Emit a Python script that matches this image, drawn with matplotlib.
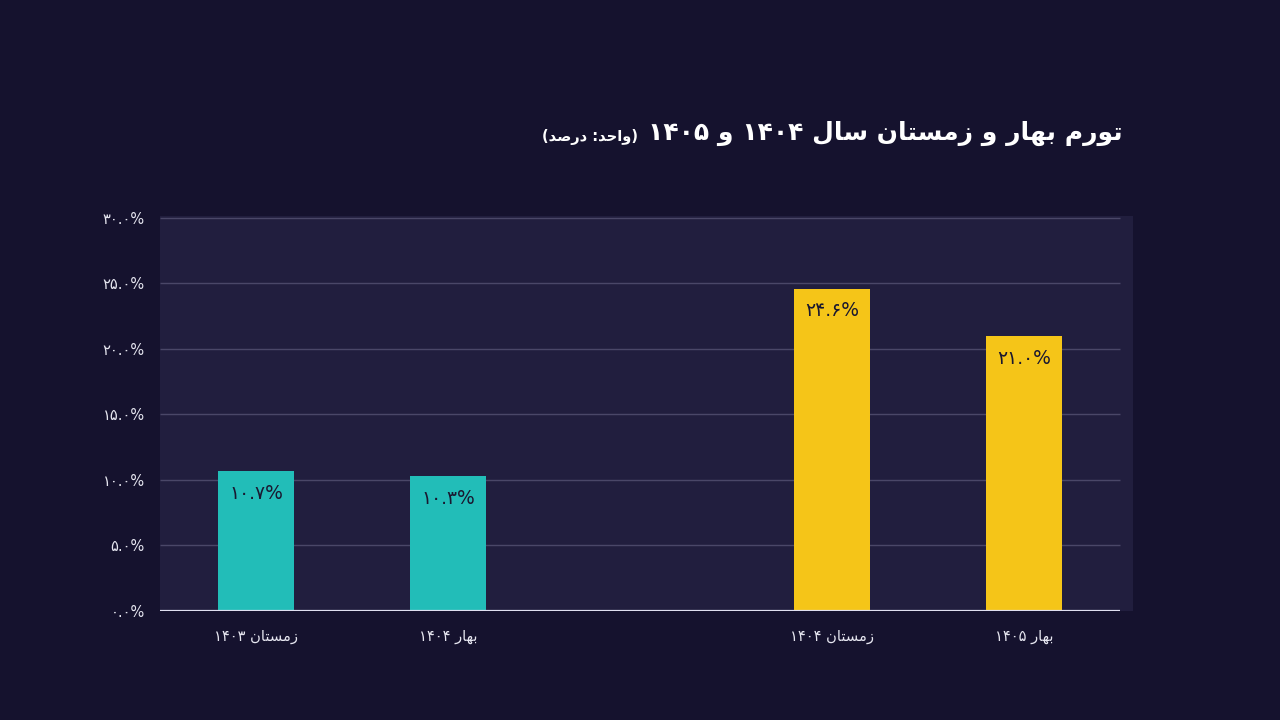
import re
import matplotlib
matplotlib.use("Agg")
import matplotlib.pyplot as plt

# ---------------- data ----------------
categories = ["زمستان ۱۴۰۳", "بهار ۱۴۰۴", "زمستان ۱۴۰۴", "بهار ۱۴۰۵"]
values = [10.7, 10.3, 24.6, 21.0]
value_labels = ["۱۰.۷%", "۱۰.۳%", "۲۴.۶%", "۲۱.۰%"]
slots = [0, 1, 3, 4]
yticks = [0, 5, 10, 15, 20, 25, 30]
ytick_labels = ["۰.۰%", "۵.۰%", "۱۰.۰%", "۱۵.۰%", "۲۰.۰%", "۲۵.۰%", "۳۰.۰%"]
title = "تورم بهار و زمستان سال ۱۴۰۴ و ۱۴۰۵"
subtitle = "(واحد: درصد)"
bar_colors = ["#22BDB8", "#22BDB8", "#F5C518", "#F5C518"]

# ---------------- minimal Persian shaping ----------------
FORMS = {
    "ا": ("\uFE8D", "\uFE8E", None, None),
    "ب": ("\uFE8F", "\uFE90", "\uFE91", "\uFE92"),
    "ت": ("\uFE95", "\uFE96", "\uFE97", "\uFE98"),
    "ح": ("\uFEA1", "\uFEA2", "\uFEA3", "\uFEA4"),
    "د": ("\uFEA9", "\uFEAA", None, None),
    "ر": ("\uFEAD", "\uFEAE", None, None),
    "ز": ("\uFEAF", "\uFEB0", None, None),
    "س": ("\uFEB1", "\uFEB2", "\uFEB3", "\uFEB4"),
    "ص": ("\uFEB9", "\uFEBA", "\uFEBB", "\uFEBC"),
    "ل": ("\uFEDD", "\uFEDE", "\uFEDF", "\uFEE0"),
    "م": ("\uFEE1", "\uFEE2", "\uFEE3", "\uFEE4"),
    "ن": ("\uFEE5", "\uFEE6", "\uFEE7", "\uFEE8"),
    "ه": ("\uFEE9", "\uFEEA", "\uFEEB", "\uFEEC"),
    "و": ("\uFEED", "\uFEEE", None, None),
}


def shape(s):
    out = []
    for i, c in enumerate(s):
        if c not in FORMS:
            out.append(c)
            continue
        prev = s[i - 1] if i > 0 else None
        nxt = s[i + 1] if i + 1 < len(s) else None
        jp = prev in FORMS and FORMS[prev][2] is not None
        jn = FORMS[c][2] is not None and nxt in FORMS
        iso, fin, ini, med = FORMS[c]
        if jp and jn:
            out.append(med)
        elif jp:
            out.append(fin)
        elif jn:
            out.append(ini)
        else:
            out.append(iso)
    return "".join(out)


def rtl(s):
    v = shape(s)[::-1]
    v = v.translate(str.maketrans("()", ")("))
    v = re.sub(r"[۰-۹0-9.%]+", lambda m: m.group(0)[::-1], v)
    return v


FONT = "DejaVu Sans"
plt.rcParams["font.family"] = [FONT]

BG = "#15122E"
PANEL = "#211E3E"
GRID = "#4A4768"
TXT = "#E6E6F0"

fig = plt.figure(figsize=(12.8, 7.2), dpi=100, facecolor=BG)
ax = fig.add_axes([160 / 1280, 1 - 611 / 720, 973 / 1280, 395 / 720])
ax.set_facecolor(PANEL)
for sp in ax.spines.values():
    sp.set_visible(False)

ax.set_xlim(-0.5, 4.5 + 13 / 192)
ax.set_ylim(0, 30.15)

ax.hlines(yticks[1:], -0.5, 4.5, color=GRID, lw=1.0, zorder=1)
ax.hlines([0], -0.5, 4.5, color="#E0DFF0", lw=1.6, zorder=3)

bars = ax.bar(slots, values, width=0.4, color=bar_colors, zorder=2)

for s, v, lab in zip(slots, values, value_labels):
    ax.text(s, v - 1.7, lab, ha="center", va="center", fontsize=13.5,
            color="#1A1830", zorder=4)

ax.set_yticks(yticks)
ax.set_yticklabels(ytick_labels, fontsize=10.5, color=TXT)
ax.tick_params(axis="y", length=0, pad=11)
ax.set_xticks(slots)
ax.set_xticklabels([rtl(c) for c in categories], fontsize=10.5, color=TXT)
ax.tick_params(axis="x", length=0, pad=13)

t = fig.text(1123 / 1280, 1 - 133 / 720, rtl(title), ha="right", va="center",
             fontsize=18, fontweight="bold", color="white")
fig.canvas.draw()
bb = t.get_window_extent(renderer=fig.canvas.get_renderer())
sub_x = (bb.x0 - 10) / fig.bbox.width
fig.text(sub_x, 1 - 137 / 720, rtl(subtitle), ha="right", va="center",
         fontsize=10.5, fontweight="bold", color="white")

fig.savefig("out.png", dpi=100, facecolor=BG)
